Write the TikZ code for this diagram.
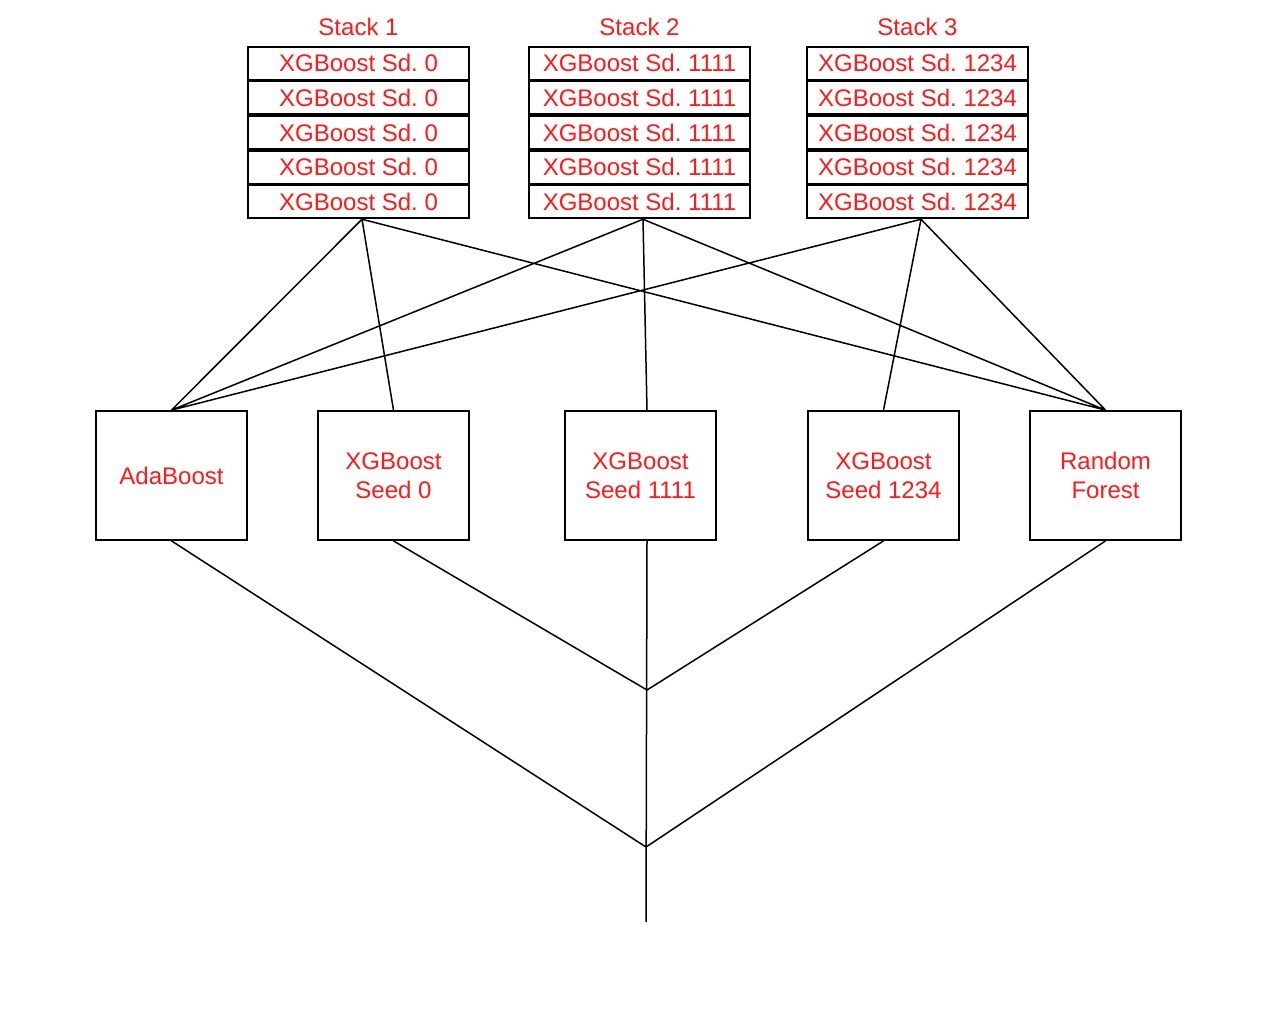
\documentclass[tikz,border=0pt]{standalone}
\usepackage{fontspec}
\setmainfont{Liberation Sans}
\frenchspacing

\begin{document}
\begin{tikzpicture}[x = 0.5pt, y = -0.5pt,
    txt/.style = {text = red!90!white, font = \fontsize{12}{14.5}\selectfont},
    row/.style = {txt, draw, line width = 1pt, minimum width = 110.5pt, minimum height = 16.55pt, inner sep = 0pt},
    model/.style = {txt, draw, line width = 0.9pt, minimum width = 75.5pt, minimum height = 64.5pt, align = center},
    wire/.style = {line width = 0.75pt}]
    \useasboundingbox (0,0) rectangle (1280,1024);
    % stacks
    \foreach \s/\cx/\sd in {1/358.5/0, 2/639.5/1111, 3/917.5/1234} {
        \node[txt] (title\s) at (\cx,27) {Stack \s};
        \foreach \r in {1,...,5}
            \node[row] (stack\s-\r) at (\cx,{63.3+(\r-1)*34.6}) {XGBoost Sd. \sd};
        \coordinate (out\s) at ([xshift = 1.75pt]stack\s-5.south);
    }
    % base models
    \node[model] (ada) at (171.5,475.5) {AdaBoost};
    \node[model] (xgb0) at (393.5,475.5) {XGBoost\\Seed 0};
    \node[model] (xgb1111) at (640.5,475.5) {XGBoost\\Seed 1111};
    \node[model] (xgb1234) at (883.5,475.5) {XGBoost\\Seed 1234};
    \node[model] (rf) at (1105.5,475.5) {Random\\Forest};
    \coordinate (join1) at (647,690);
    \coordinate (join2) at (646,847);
    \coordinate (final) at (646,922);
    \draw[wire]
        (out1) -- (ada.north) (out1) -- (xgb0.north) (out1) -- (rf.north)
        (out2) -- (ada.north) (out2) -- (xgb1111.north -| join1) (out2) -- (rf.north)
        (out3) -- (ada.north) (out3) -- (xgb1234.north) (out3) -- (rf.north)
        (xgb1111.south -| join1) -- (final)
        (xgb0.south) -- (join1) (xgb1234.south) -- (join1)
        (ada.south) -- (join2) (rf.south) -- (join2)
    ;
\end{tikzpicture}
\end{document}
